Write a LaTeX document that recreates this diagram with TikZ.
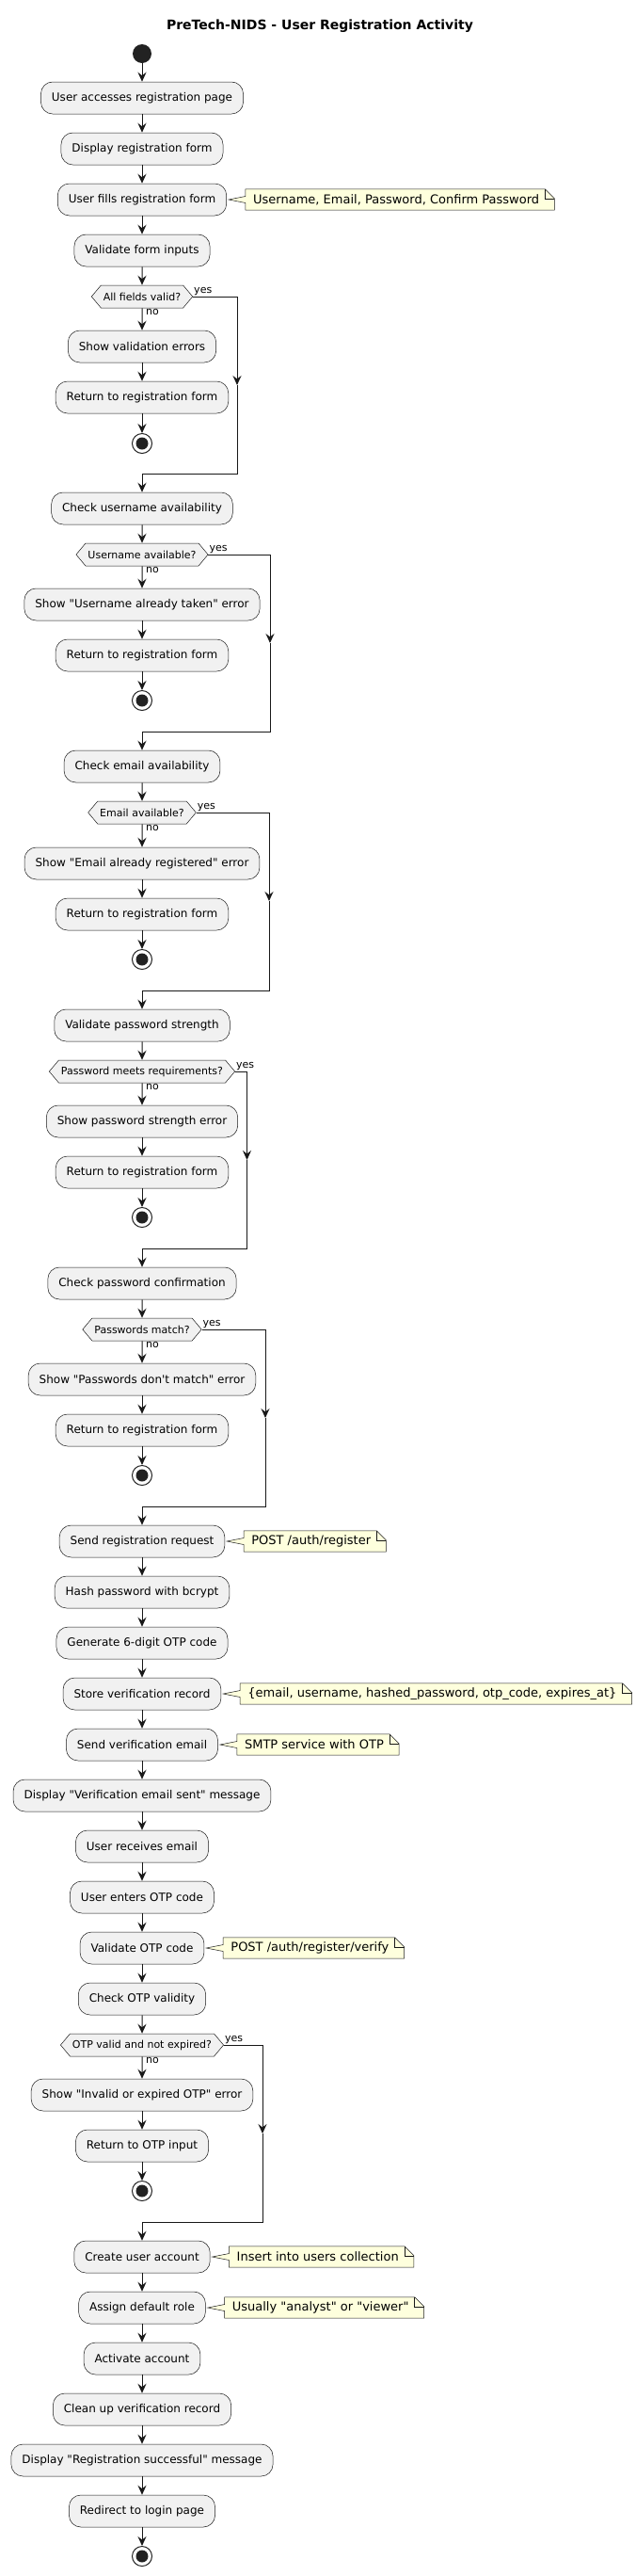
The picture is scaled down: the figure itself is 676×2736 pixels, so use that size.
\documentclass[tikz,border=0pt]{standalone}
\usepackage{fontspec}
\setmainfont{DejaVu Sans}[Ligatures=TeXOff]
\usetikzlibrary{calc,positioning,shapes.symbols,arrows.meta,backgrounds}

\definecolor{dark}{HTML}{181818}
\definecolor{boxfill}{HTML}{F1F1F1}
\definecolor{notefill}{HTML}{FEFFDD}
\definecolor{dot}{HTML}{222222}

% note with its wedge: #1 box, #2 note name, #3 text
\newcommand{\addnote}[3]{%
  \node[notetext, right=28pt of #1] (#2) {#3};
  \begin{scope}[on background layer]
  \filldraw[noteline] ($(#1.east)+(2,0)$) -- ($(#2.west)+(-8,-3.5)$) -- ($(#2.north west)+(-8,0)$)
     -- ($(#2.north east)+(6,0)$) -- ($(#2.north east)+(16,10)$) -- ($(#2.south east)+(16,0)$)
     -- ($(#2.south west)+(-8,0)$) -- ($(#2.west)+(-8,3.5)$) -- cycle;
  \draw[noteline, fill=none] ($(#2.north east)+(6,0)$) -- ($(#2.north east)+(6,10)$) -- ($(#2.north east)+(16,10)$);
  \end{scope}
}

\begin{document}
\begin{tikzpicture}[x=1pt,y=-1pt,>={Stealth[length=10pt,width=9pt,inset=3.5pt]},
  act/.style={rectangle, rounded corners=12.5pt, draw=dark, line width=0.5pt, fill=boxfill,
    minimum height=34pt, inner xsep=11.5pt, font=\fontsize{12}{14}\selectfont},
  dec/.style={signal, signal to=east and west, signal pointer angle=100, draw=dark,
    line width=0.5pt, fill=boxfill, minimum height=24pt, inner xsep=2.5pt, inner ysep=0pt,
    font=\fontsize{11}{13}\selectfont},
  notetext/.style={inner xsep=0pt, inner ysep=0pt, minimum height=22pt, font=\fontsize{13}{15}\selectfont},
  noteline/.style={draw=dark, line width=0.5pt, fill=notefill},
  startnode/.style={circle, fill=dot, minimum size=20pt, inner sep=0pt},
  endnode/.style={circle, draw=dot, line width=1pt, fill=white, minimum size=21pt, inner sep=0pt,
    path picture={\fill[dot] (path picture bounding box.center) circle (6.5pt);}},
  flow/.style={->, draw=dark, line width=1pt},
  line/.style={draw=dark, line width=1pt},
  lbl/.style={inner sep=1pt, font=\fontsize{11}{13}\selectfont},
  title/.style={font=\bfseries\fontsize{14}{16}\selectfont}]

\useasboundingbox (0,0) rectangle (676,2736);

%the title and the start
\node[title] (ttl) at (340,28) {PreTech-NIDS - User Registration Activity};
\node[startnode] (start) at (151,57) {};

%form checks
\node[act] (b1) at (151,104) {User accesses registration page};
\node[act] (b2) at (151,158) {Display registration form};
\node[act] (b3) at (151,212) {User fills registration form};
\addnote{b3}{n1}{Username, Email, Password, Confirm Password}
\node[act] (b4) at (151,266) {Validate form inputs};
\node[dec] (h1) at (151,315) {All fields valid?};
\node[act] (e1) at (151,368) {Show validation errors};
\node[act] (r1) at (151,422) {Return to registration form};
\node[endnode] (end1) at (151,471) {};
\coordinate (a1) at (252,409);
\coordinate (m1) at (151,503);

\node[act] (b5) at (151,540) {Check username availability};
\node[dec] (h2) at (151,589) {Username available?};
\node[act] (e2) at (151,642) {Show "Username already taken" error};
\node[act] (r2) at (151,696) {Return to registration form};
\node[endnode] (end2) at (151,744) {};
\coordinate (a2) at (287,683);
\coordinate (m2) at (151,777);

\node[act] (b6) at (151,814) {Check email availability};
\node[dec] (h3) at (151,863) {Email available?};
\node[act] (e3) at (151,917) {Show "Email already registered" error};
\node[act] (r3) at (151,971) {Return to registration form};
\node[endnode] (end3) at (151,1019) {};
\coordinate (a3) at (286,957);
\coordinate (m3) at (151,1052);

\node[act] (b7) at (151,1089) {Validate password strength};
\node[dec] (h4) at (151,1138) {Password meets requirements?};
\node[act] (e4) at (151,1191) {Show password strength error};
\node[act] (r4) at (151,1245) {Return to registration form};
\node[endnode] (end4) at (151,1293) {};
\coordinate (a4) at (262.5,1232);
\coordinate (m4) at (151,1326);

\node[act] (b8) at (151,1363) {Check password confirmation};
\node[dec] (h5) at (151,1412) {Passwords match?};
\node[act] (e5) at (151,1465) {Show "Passwords don't match" error};
\node[act] (r5) at (151,1519) {Return to registration form};
\node[endnode] (end5) at (151,1567) {};
\coordinate (a5) at (282,1506);
\coordinate (m5) at (151,1600);

%request and otp
\node[act] (b9) at (151,1637) {Send registration request};
\addnote{b9}{n2}{POST /auth/register}
\node[act] (b10) at (151,1691) {Hash password with bcrypt};
\node[act] (b11) at (151,1745) {Generate 6-digit OTP code};
\node[act] (b12) at (151,1799) {Store verification record};
\addnote{b12}{n3}{\{email, username, hashed\_password, otp\_code, expires\_at\}}
\node[act] (b13) at (151,1853) {Send verification email};
\addnote{b13}{n4}{SMTP service with OTP}
\node[act] (b14) at (151,1907) {Display "Verification email sent" message};
\node[act] (b15) at (151,1961) {User receives email};
\node[act] (b16) at (151,2015) {User enters OTP code};
\node[act] (b17) at (151,2069) {Validate OTP code};
\addnote{b17}{n5}{POST /auth/register/verify}
\node[act] (b18) at (151,2123) {Check OTP validity};
\node[dec] (h6) at (151,2172) {OTP valid and not expired?};
\node[act] (e6) at (151,2225) {Show "Invalid or expired OTP" error};
\node[act] (r6) at (151,2279) {Return to OTP input};
\node[endnode] (end6) at (151,2327) {};
\coordinate (a6) at (279,2266);
\coordinate (m6) at (151,2360);

%account
\node[act] (b19) at (151,2397) {Create user account};
\addnote{b19}{n6}{Insert into users collection}
\node[act] (b20) at (151,2451) {Assign default role};
\addnote{b20}{n7}{Usually "analyst" or "viewer"}
\node[act] (b21) at (151,2505) {Activate account};
\node[act] (b22) at (151,2559) {Clean up verification record};
\node[act] (b23) at (151,2613) {Display "Registration successful" message};
\node[act] (b24) at (151,2667) {Redirect to login page};
\node[endnode] (end7) at (151,2715) {};

% the main flow
\foreach \a/\b in {start/b1,b1/b2,b2/b3,b3/b4,b4/h1,h1/e1,e1/r1,r1/end1,m1/b5,
    b5/h2,h2/e2,e2/r2,r2/end2,m2/b6,b6/h3,h3/e3,e3/r3,r3/end3,m3/b7,
    b7/h4,h4/e4,e4/r4,r4/end4,m4/b8,b8/h5,h5/e5,e5/r5,r5/end5,m5/b9,
    b9/b10,b10/b11,b11/b12,b12/b13,b13/b14,b14/b15,b15/b16,b16/b17,b17/b18,
    b18/h6,h6/e6,e6/r6,r6/end6,m6/b19,b19/b20,b20/b21,b21/b22,b22/b23,b23/b24,b24/end7}
    \draw[flow] (\a) -- (\b);

% the yes branches
\foreach \h/\a/\m in {h1/a1/m1,h2/a2/m2,h3/a3/m3,h4/a4/m4,h5/a5/m5,h6/a6/m6}{
    \draw[flow] (\h.east) -| (\a);
    \draw[line] (\a) |- (\m);
    \node[lbl, anchor=south west] (\h-yes) at (\h.east) {yes};
    \node[lbl, anchor=north west, xshift=3pt] (\h-no) at (\h.south) {no};
}
\end{tikzpicture}
\end{document}
